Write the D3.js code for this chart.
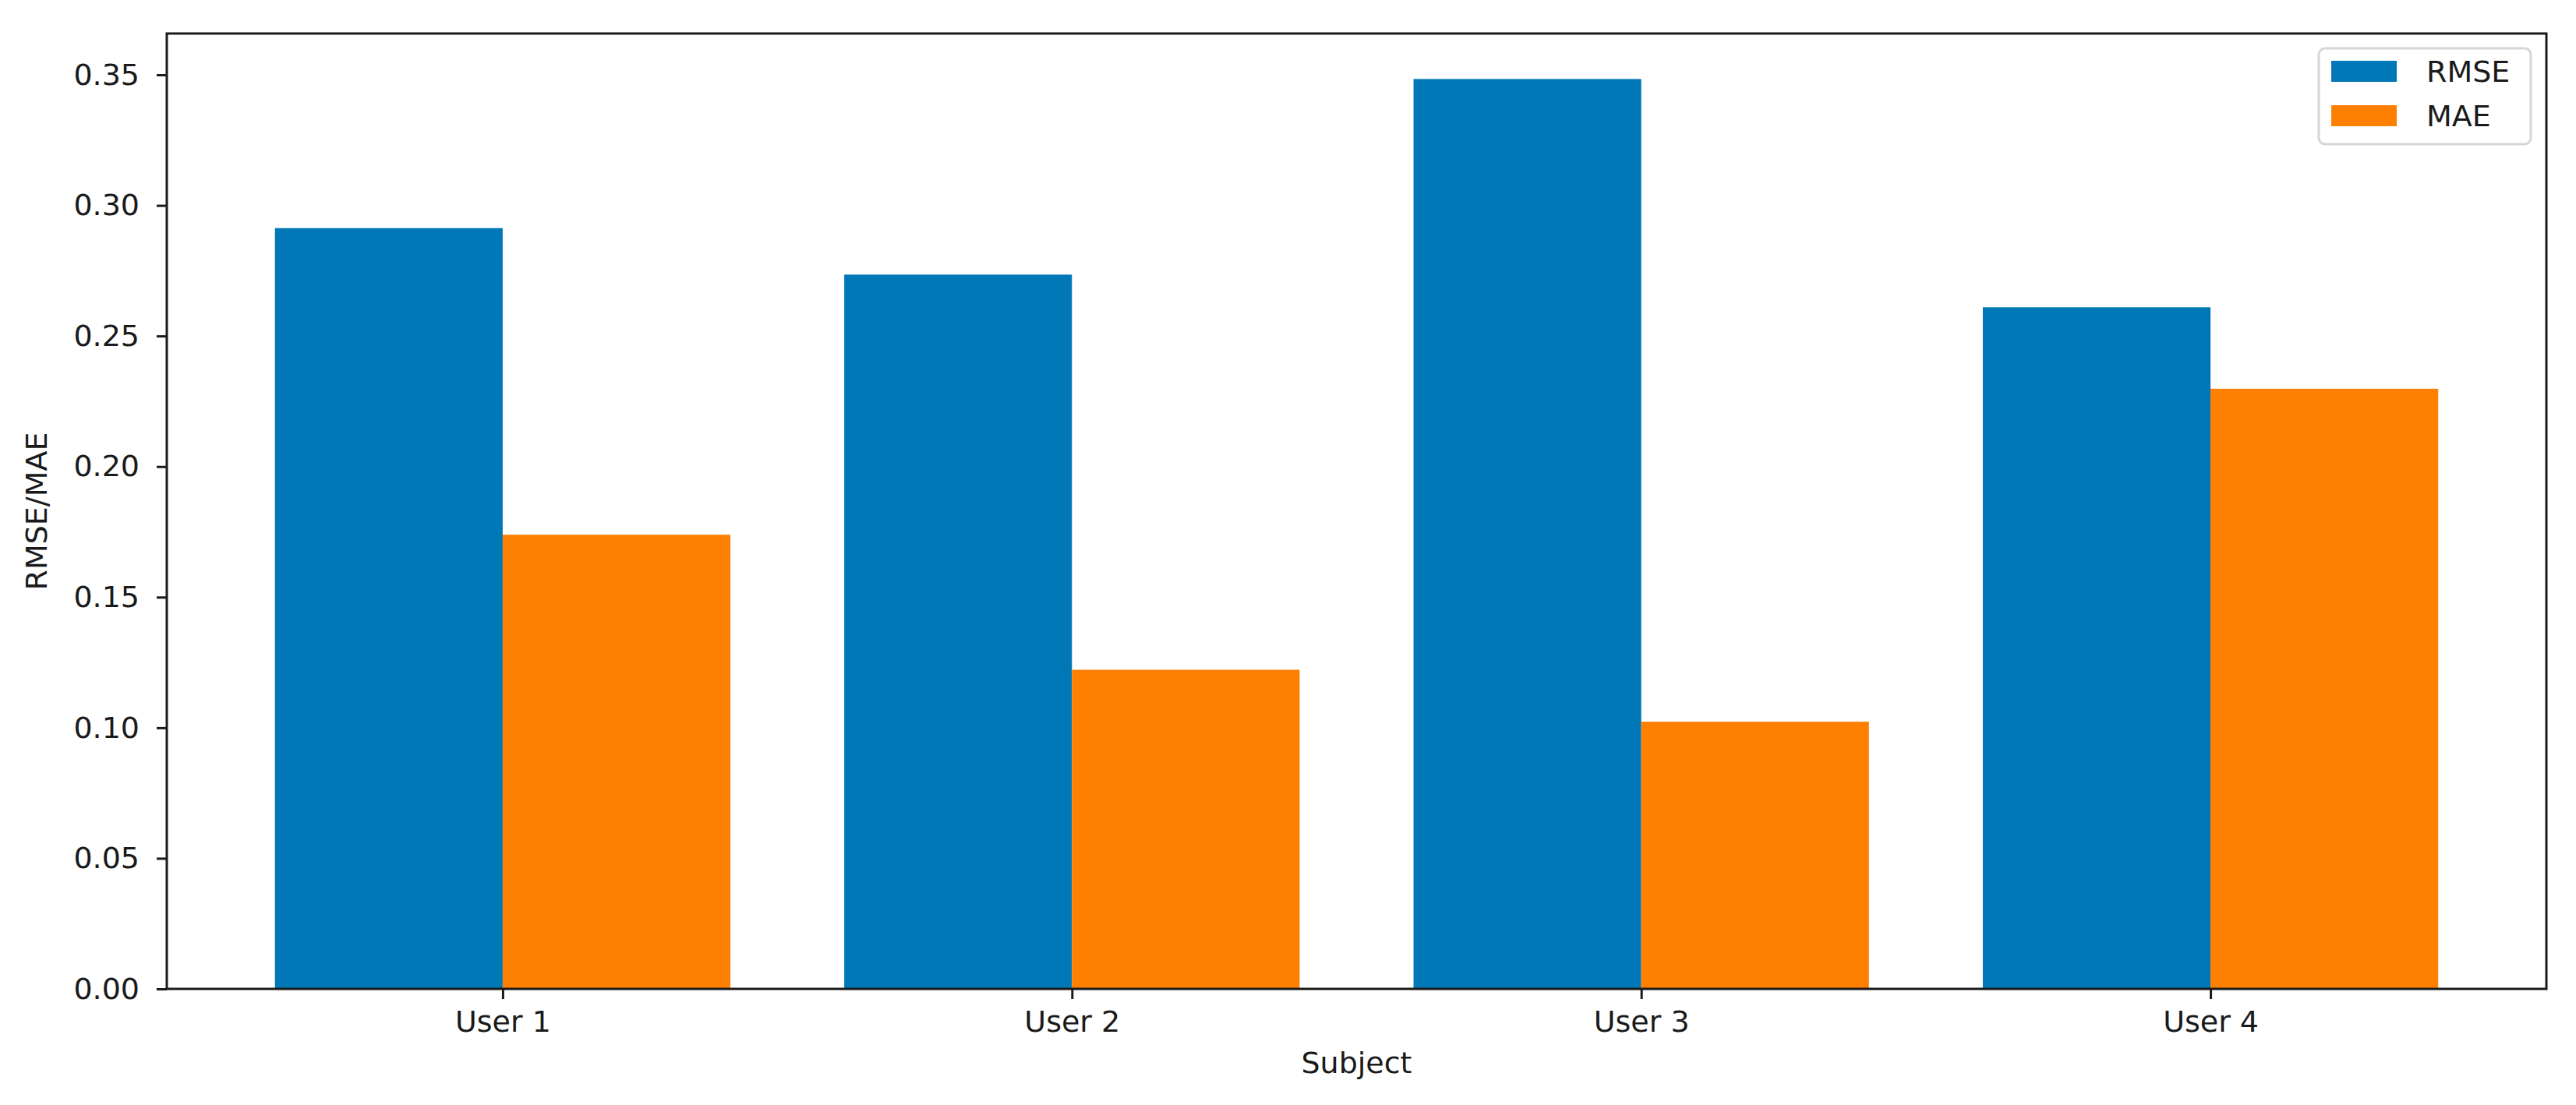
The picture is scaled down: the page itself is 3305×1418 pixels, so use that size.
<!DOCTYPE html>
<html>
<head>
<meta charset="utf-8">
<script src="https://cdn.jsdelivr.net/npm/d3@7"></script>
<style>
  html, body { margin: 0; padding: 0; background: #fff; }
  svg { display: block; font-family: "DejaVu Sans", sans-serif; }
</style>
</head>
<body>
<svg id="chart" width="3305" height="1418"></svg>
<script>
// ---- data ----
const categories = ["User 1", "User 2", "User 3", "User 4"];
const seriesNames = ["RMSE", "MAE"];
const rmseValues = [0.2913, 0.2735, 0.3484, 0.2610];
const maeValues  = [0.1739, 0.1222, 0.1023, 0.2298];
const yTickValues = [0.00, 0.05, 0.10, 0.15, 0.20, 0.25, 0.30, 0.35];
const colors = ["#0077B6", "#FF7F00"];
const xLabel = "Subject";
const yLabel = "RMSE/MAE";

(function () {
  // ---- layout ----
  const W = 3305, H = 1418;
  const plotL = 214, plotR = 3267, plotT = 43, plotB = 1269;
  const fontSize = 38;
  const ink = "#1a1a1a";
  const barW = 0.4;

  const svg = d3.select("#chart");
  svg.append("rect").attr("width", W).attr("height", H).attr("fill", "#fff");

  const x = d3.scaleLinear().domain([-0.59, 3.59]).range([plotL, plotR]);
  const yMax = d3.max(rmseValues.concat(maeValues)) * 1.05;
  const y = d3.scaleLinear().domain([0, yMax]).range([plotB, plotT]);

  const series = [rmseValues, maeValues];

  // bars
  series.forEach((vals, s) => {
    svg.append("g").selectAll("rect")
      .data(vals)
      .join("rect")
      .attr("x", (d, i) => x(i + (s === 0 ? -barW : 0)))
      .attr("width", (d, i) => x(i + barW) - x(i))
      .attr("y", d => y(d))
      .attr("height", d => y(0) - y(d))
      .attr("fill", colors[s]);
  });

  // axes
  const xAxis = d3.axisBottom(x)
    .tickValues(categories.map((c, i) => i))
    .tickFormat(i => categories[i])
    .tickSize(13).tickPadding(15);
  const gx = svg.append("g").attr("transform", `translate(0,${plotB})`).call(xAxis);

  const yAxis = d3.axisLeft(y)
    .tickValues(yTickValues)
    .tickFormat(d3.format(".2f"))
    .tickSize(13).tickPadding(22);
  const gy = svg.append("g").attr("transform", `translate(${plotL},0)`).call(yAxis);

  [gx, gy].forEach(g => {
    g.select(".domain").remove();
    g.selectAll(".tick line").attr("stroke", ink).attr("stroke-width", 3);
    g.selectAll(".tick text")
      .attr("fill", ink)
      .style("font-family", "'DejaVu Sans', sans-serif")
      .style("font-size", fontSize + "px");
  });

  // frame (spines)
  svg.append("rect")
    .attr("x", plotL).attr("y", plotT)
    .attr("width", plotR - plotL).attr("height", plotB - plotT)
    .attr("fill", "none").attr("stroke", ink).attr("stroke-width", 3);

  // axis labels
  svg.append("text")
    .attr("x", (plotL + plotR) / 2).attr("y", 1377)
    .attr("text-anchor", "middle")
    .attr("fill", ink).style("font-size", fontSize + "px")
    .text(xLabel);

  svg.append("text")
    .attr("transform", `translate(60,${(plotT + plotB) / 2}) rotate(-90)`)
    .attr("text-anchor", "middle")
    .attr("fill", ink).style("font-size", fontSize + "px")
    .text(yLabel);

  // legend
  const lg = svg.append("g").attr("transform", "translate(2975,62)");
  lg.append("rect")
    .attr("width", 272).attr("height", 123).attr("rx", 8)
    .attr("fill", "#fff").attr("fill-opacity", 0.8)
    .attr("stroke", "#d6d6d6").attr("stroke-width", 3);
  seriesNames.forEach((name, i) => {
    const yy = 16 + i * 57;
    lg.append("rect")
      .attr("x", 16).attr("y", yy)
      .attr("width", 84).attr("height", 27)
      .attr("fill", colors[i]);
    lg.append("text")
      .attr("x", 138).attr("y", yy + 27)
      .attr("fill", ink).style("font-size", fontSize + "px")
      .text(name);
  });
})();
</script>
</body>
</html>
